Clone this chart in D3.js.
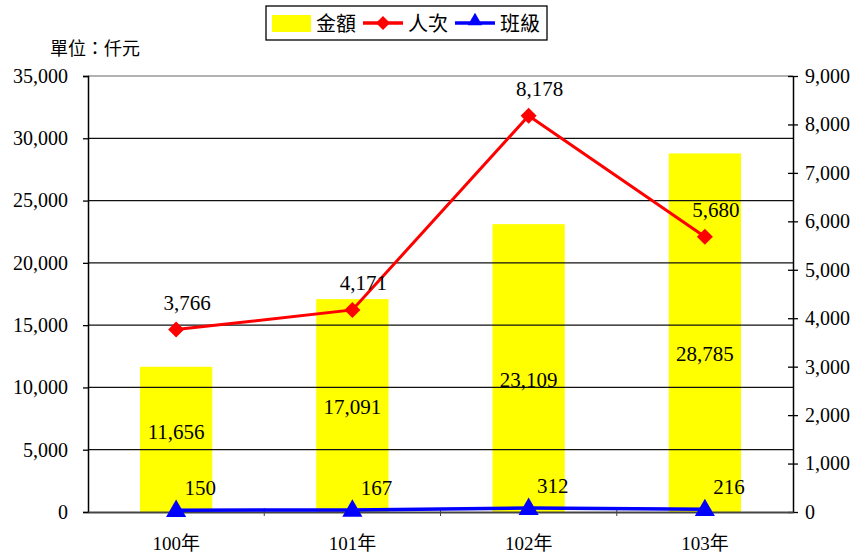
<!DOCTYPE html>
<html>
<head>
<meta charset="utf-8">
<script src="https://cdn.jsdelivr.net/npm/d3@7"></script>
<style>
  body { margin: 0; background: #fff; }
</style>
</head>
<body>
<svg id="chart"></svg>
<script>
// data
let years = ['100年', '101年', '102年', '103年'];
let amount = [11656, 17091, 23109, 28785];   // 金額 (仟元), left axis
let people = [3766, 4171, 8178, 5680];       // 人次, right axis
let classes = [150, 167, 312, 216];          // 班級, left axis
let leftTicks = [0, 5000, 10000, 15000, 20000, 25000, 30000, 35000];
let rightTicks = [0, 1000, 2000, 3000, 4000, 5000, 6000, 7000, 8000, 9000];

let width = 853;
let height = 554;
let margin = { top: 76, right: 60, bottom: 42, left: 88 };
let fmt = d3.format(',');
const SERIF = "'Liberation Serif', 'Times New Roman', serif";
const CJK = "'Liberation Serif', 'Noto Sans CJK TC', serif";

let svg = d3.select('#chart').attr('width', width).attr('height', height);

// scales
let x = d3.scaleBand().domain(years).range([margin.left, width - margin.right]);
let yLeft = d3.scaleLinear().domain([0, 35000]).range([height - margin.bottom, margin.top]);
let yRight = d3.scaleLinear().domain([0, 9000]).range([height - margin.bottom, margin.top]);
let cx = (d) => x(d) + x.bandwidth() / 2;
let barW = x.bandwidth() * 0.41;

// bars
svg.selectAll('.bar')
  .data(amount)
  .enter()
  .append('rect')
  .classed('bar', true)
  .attr('x', (d, i) => cx(years[i]) - barW / 2)
  .attr('y', (d) => yLeft(d))
  .attr('width', barW)
  .attr('height', (d) => yLeft(0) - yLeft(d))
  .attr('fill', '#ffff00');

// gridlines (drawn over the bars like the original)
svg.append('g')
  .selectAll('line')
  .data(leftTicks.slice(1))
  .enter()
  .append('line')
  .attr('x1', margin.left)
  .attr('x2', width - margin.right)
  .attr('y1', (d) => yLeft(d))
  .attr('y2', (d) => yLeft(d))
  .attr('stroke', (d) => (d === 35000 ? '#666' : '#111'))
  .attr('stroke-width', 1.2);

// left axis
let leftAxis = svg.append('g')
  .attr('transform', `translate(${margin.left},0)`)
  .call(d3.axisLeft(yLeft).tickValues(leftTicks).tickFormat(fmt).tickSize(5).tickPadding(15));
leftAxis.select('.domain').attr('stroke', '#000').attr('stroke-width', 1.5);
leftAxis.selectAll('.tick line').attr('stroke', '#000').attr('stroke-width', 1.3);
leftAxis.selectAll('text').attr('font-size', 20).style('font-family', SERIF);

// right axis
let rightAxis = svg.append('g')
  .attr('transform', `translate(${width - margin.right},0)`)
  .call(d3.axisRight(yRight).tickValues(rightTicks).tickFormat(fmt).tickSizeInner(-5).tickSizeOuter(0).tickPadding(12));
rightAxis.select('.domain').attr('stroke', '#000').attr('stroke-width', 1.5);
rightAxis.selectAll('.tick line').attr('stroke', '#000').attr('stroke-width', 1.3);
rightAxis.selectAll('.tick').append('line')
  .attr('x1', 0).attr('x2', 5).attr('stroke', '#000').attr('stroke-width', 1.3);
rightAxis.selectAll('text').attr('font-size', 20).style('font-family', SERIF);

// bottom axis
let bottomAxis = svg.append('g')
  .attr('transform', `translate(0,${height - margin.bottom})`)
  .call(d3.axisBottom(x).tickSize(0).tickPadding(25));
bottomAxis.select('.domain').attr('stroke', '#444').attr('stroke-width', 2.2);
bottomAxis.selectAll('text').attr('font-size', 19).style('font-family', CJK);
// category boundary ticks
svg.append('g')
  .selectAll('line')
  .data(years.slice(1))
  .enter()
  .append('line')
  .attr('x1', (d) => x(d))
  .attr('x2', (d) => x(d))
  .attr('y1', height - margin.bottom - 4)
  .attr('y2', height - margin.bottom + 4)
  .attr('stroke', '#444')
  .attr('stroke-width', 1);

// bar labels (placed in the lower part of each bar, as in the original)
svg.selectAll('.bar-label')
  .data(amount)
  .enter()
  .append('text')
  .classed('bar-label', true)
  .attr('x', (d, i) => cx(years[i]))
  .attr('y', (d) => yLeft(d * 0.366) - 27 + 7)
  .attr('text-anchor', 'middle')
  .attr('font-size', 21)
  .style('font-family', SERIF)
  .text(fmt);

// lines
const lineFor = (scale) => d3.line().x((d, i) => cx(years[i])).y((d) => scale(d));

svg.append('path')
  .datum(classes)
  .attr('d', lineFor(yLeft))
  .attr('fill', 'none')
  .attr('stroke', '#0000ff')
  .attr('stroke-width', 3.5);

svg.selectAll('.tri')
  .data(classes)
  .enter()
  .append('path')
  .classed('tri', true)
  .attr('d', d3.symbol(d3.symbolTriangle, 175))
  .attr('transform', (d, i) => `translate(${cx(years[i])},${yLeft(d) + 1})`)
  .attr('fill', '#0000ff');

svg.append('path')
  .datum(people)
  .attr('d', lineFor(yRight))
  .attr('fill', 'none')
  .attr('stroke', '#ff0000')
  .attr('stroke-width', 3);

svg.selectAll('.dia')
  .data(people)
  .enter()
  .append('path')
  .classed('dia', true)
  .attr('d', 'M0,-8L8,0L0,8L-8,0Z')
  .attr('transform', (d, i) => `translate(${cx(years[i])},${yRight(d)})`)
  .attr('fill', '#ff0000');

// line labels
svg.selectAll('.people-label')
  .data(people)
  .enter()
  .append('text')
  .attr('x', (d, i) => cx(years[i]) + 11)
  .attr('y', (d) => yRight(d) - 20)
  .attr('text-anchor', 'middle')
  .attr('font-size', 21)
  .style('font-family', SERIF)
  .text(fmt);

svg.selectAll('.class-label')
  .data(classes)
  .enter()
  .append('text')
  .attr('x', (d, i) => cx(years[i]) + 24)
  .attr('y', (d) => yLeft(d) - 15)
  .attr('text-anchor', 'middle')
  .attr('font-size', 21)
  .style('font-family', SERIF)
  .text(fmt);

// unit label
svg.append('text')
  .attr('x', 50)
  .attr('y', 55)
  .attr('font-size', 18)
  .style('font-family', CJK)
  .text('單位：仟元');

// legend
let legend = svg.append('g').attr('transform', 'translate(266,6)');
legend.append('rect')
  .attr('width', 281).attr('height', 34)
  .attr('fill', '#fff').attr('stroke', '#000').attr('stroke-width', 1.3);
legend.append('rect')
  .attr('x', 6).attr('y', 9).attr('width', 39).attr('height', 17)
  .attr('fill', '#ffff00');
legend.append('line').attr('x1', 97).attr('x2', 137).attr('y1', 17).attr('y2', 17)
  .attr('stroke', '#ff0000').attr('stroke-width', 3.5);
legend.append('path').attr('d', 'M0,-7L7,0L0,7L-7,0Z').attr('transform', 'translate(117,17)').attr('fill', '#ff0000');
legend.append('line').attr('x1', 189).attr('x2', 229).attr('y1', 17).attr('y2', 17)
  .attr('stroke', '#0000ff').attr('stroke-width', 3.5);
legend.append('path').attr('d', d3.symbol(d3.symbolTriangle, 90)).attr('transform', 'translate(209,15)').attr('fill', '#0000ff');
legend.selectAll('.legend-text')
  .data([['金額', 50], ['人次', 142], ['班級', 234]])
  .enter()
  .append('text')
  .attr('x', (d) => d[1])
  .attr('y', 25)
  .attr('font-size', 20)
  .style('font-family', CJK)
  .text((d) => d[0]);
</script>
</body>
</html>
